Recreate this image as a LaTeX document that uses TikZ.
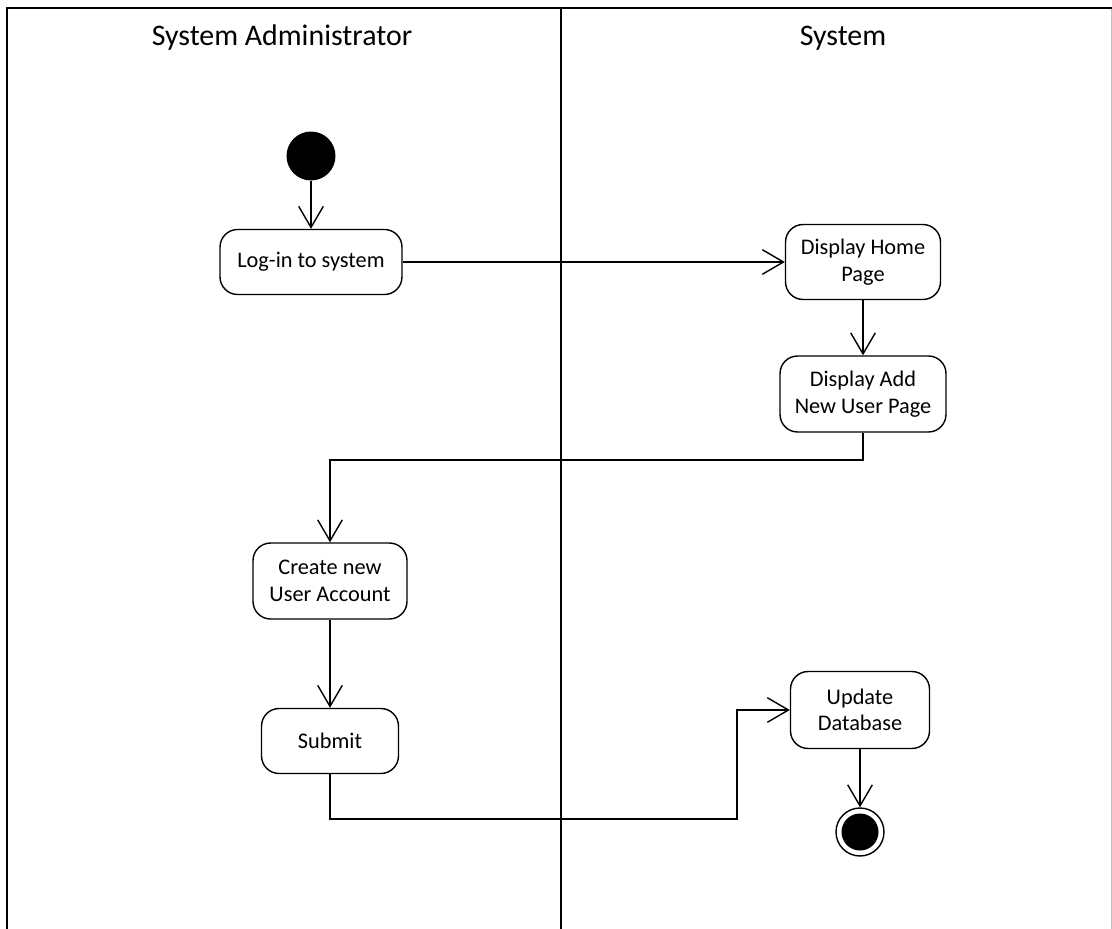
\documentclass[tikz,border=0pt]{standalone}
\usepackage{fontspec}
\setmainfont{Carlito}
\usetikzlibrary{arrows.meta}

\tikzset{
    action/.style={draw, rounded corners=10pt, align=center, line width=0.8pt,
        font=\fontsize{12.7}{15}\selectfont, inner sep=2pt},
    flow/.style={line width=0.8pt, -{Straight Barb[length=12pt, width=14pt, line width=0.8pt]}},
    lane/.style={font=\fontsize{17}{20}\selectfont}
}

\begin{document}
\begin{tikzpicture}[x=0.02cm, y=-0.02cm]
    \useasboundingbox (0,0) rectangle (1112,929);

    % Corsie
    \draw[line width=1.3pt] (7,929) -- (7,8) -- (1112,8);
    \draw[black!25] (1111,9) -- (1111,929);
    \draw[line width=0.8pt] (561,8) -- (561,929);
    \node[lane] (admin) at (282,38) {System Administrator};
    \node[lane] (sys) at (843,38) {System};

    % Nodi
    \node[circle, fill, minimum size=0.98cm, inner sep=0pt] (start) at (311,156) {};
    \node[action, minimum width=3.64cm, minimum height=1.3cm] (login) at (311,262) {Log-in to system};
    \node[action, minimum width=3.1cm, minimum height=1.5cm] (home) at (863,262) {Display Home\\Page};
    \node[action, minimum width=3.32cm, minimum height=1.52cm] (adduser) at (863,394) {Display Add\\New User Page};
    \node[action, minimum width=3.08cm, minimum height=1.52cm] (create) at (330,581) {Create new\\User Account};
    \node[action, minimum width=2.74cm, minimum height=1.3cm] (submit) at (330,741) {Submit};
    \node[action, minimum width=2.78cm, minimum height=1.54cm] (update) at (860,710) {Update\\Database};
    \node[circle, draw, line width=0.8pt, minimum size=0.96cm, inner sep=0pt,
        path picture={\fill (path picture bounding box.center) circle (0.37cm);}] (stop) at (860,832) {};

    % Flusso
    \coordinate (bendA) at (863,460);
    \coordinate (bendB) at (737,819);
    \draw[flow] (start) -- (login);
    \draw[flow] (login.east) -- (home.west);
    \draw[flow] (home) -- (adduser);
    \draw[flow] (adduser.south) -- (bendA) -| (create.north);
    \draw[flow] (create) -- (submit);
    \draw[flow] (submit.south) |- (bendB) |- (update.west);
    \draw[flow] (update) -- (stop);
\end{tikzpicture}
\end{document}
